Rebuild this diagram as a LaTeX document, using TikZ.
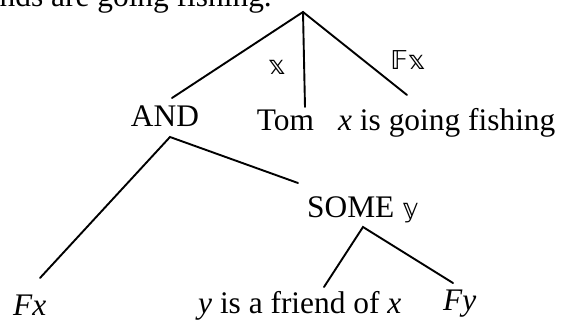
\documentclass[tikz,border=0pt]{standalone}
\usepackage{fontspec}
\setmainfont{Liberation Serif}
\newfontfamily\dvfont{DejaVu Sans}
\begin{document}
\begin{tikzpicture}[x=1pt,y=-1pt,
  txt/.style={anchor=base,inner sep=0pt,font=\fontsize{31.4}{36}\selectfont},
  lbl/.style={inner sep=0pt,font=\fontsize{26}{30}\selectfont\dvfont},
  edge/.style={line width=1.9pt,line cap=round}]
\useasboundingbox (0,0) rectangle (563,324);
\clip (0,0) rectangle (563,324);
% partially visible sentence at the top
\node[txt,anchor=base east] (sent) at (272,6) {friends are going fishing.};
% nodes
\node[txt] (and) at (165,126) {AND};
\node[txt] (tom) at (285.5,130) {Tom};
\node[txt,anchor=base west] (fish) at (338,130) {\textit{x} is going fishing};
\node[txt,anchor=base west] (some) at (307,217) {SOME {\fontsize{26}{30}\selectfont\dvfont 𝕪}};
\node[txt,anchor=base west] (fx) at (13,315) {\textit{Fx}};
\node[txt,anchor=base west] (friend) at (198,313) {\textit{y} is a friend of \textit{x}};
\node[txt,anchor=base west] (fy) at (443,310) {\textit{Fy}};
% edge labels
\node[lbl] (lx) at (277,67) {𝕩};
\node[lbl] (lfx) at (408,60) {𝔽𝕩};
% connector end points
\coordinate (top) at (303,12);
\coordinate (andT) at (172,98);
\coordinate (tomT) at (305,107);
\coordinate (fishT) at (407,95);
\coordinate (andB) at (170,137);
\coordinate (fxT) at (40,278);
\coordinate (someT) at (298,183);
\coordinate (someB) at (363,227);
\coordinate (friendT) at (324,287);
\coordinate (fyT) at (453,283);
% connectors
\draw[edge] (andT) -- (top) -- (fishT);
\draw[edge] (top) -- (tomT);
\draw[edge] (fxT) -- (andB) -- (someT);
\draw[edge] (friendT) -- (someB) -- (fyT);
\end{tikzpicture}
\end{document}
